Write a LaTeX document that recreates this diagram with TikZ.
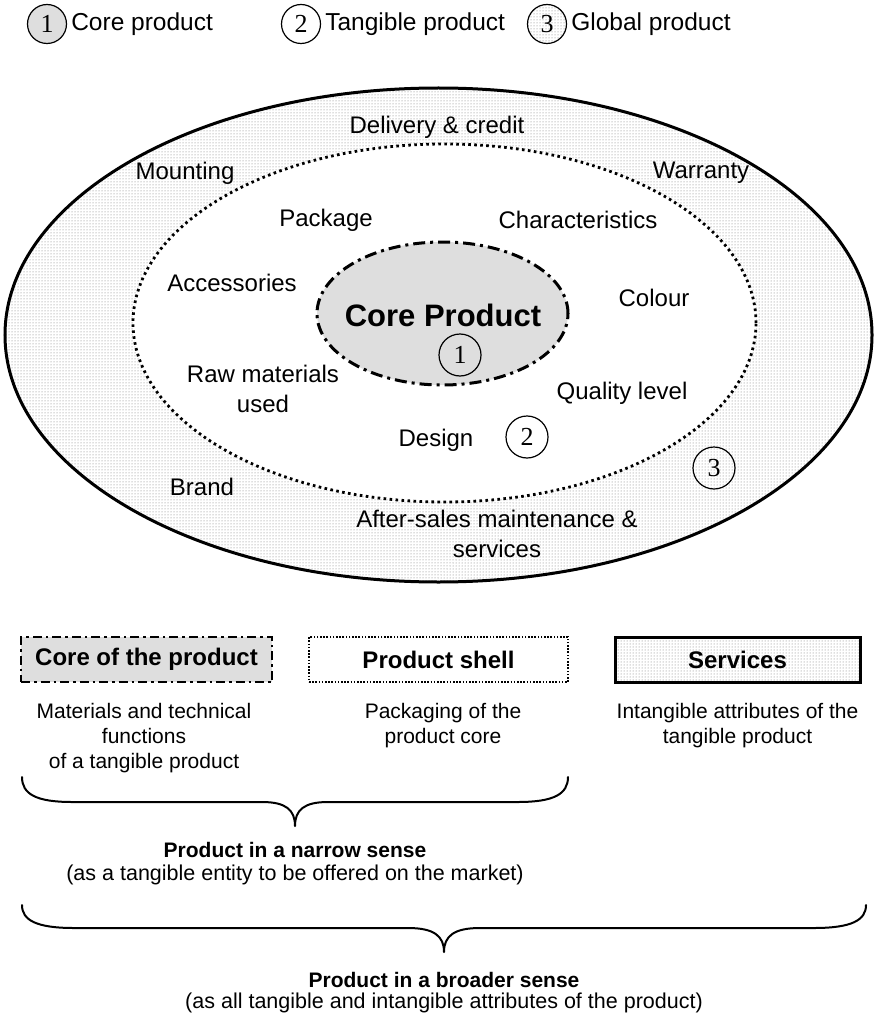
\documentclass[tikz,border=0pt]{standalone}
\usepackage{fontspec}
\setmainfont{Liberation Sans}
\newfontfamily\numfont{Liberation Serif}
\usetikzlibrary{patterns}
\definecolor{coregray}{gray}{0.87}
\begin{document}
\begin{tikzpicture}[x=1pt,y=-1pt,
  lbl/.style={font=\fontsize{24}{30}\selectfont, inner sep=0pt, align=center},
  legendlbl/.style={font=\fontsize{24.5}{30}\selectfont, inner sep=0pt, anchor=west},
  desc/.style={font=\fontsize{21}{25}\selectfont, inner sep=0pt, align=center},
  sense/.style={font=\bfseries\fontsize{21}{25}\selectfont, inner sep=0pt},
  senseexpl/.style={font=\fontsize{21.5}{25}\selectfont, inner sep=0pt},
  num/.style={circle, draw, line width=1.2pt, minimum size=42pt, inner sep=0pt,
    font=\numfont\fontsize{26}{26}\selectfont},
  legendnum/.style={num, minimum size=39pt},
  dotfill/.style={pattern=dots, pattern color=black!55},
  coreline/.style={line width=3pt, dash pattern=on 12pt off 5pt on 3pt off 5pt},
  shellline/.style={line width=2.8pt, dash pattern=on 2.6pt off 3.4pt},
  boxlabel/.style={font=\bfseries\fontsize{24}{24}\selectfont, minimum height=45pt, inner sep=0pt},
  corebox/.style={boxlabel, fill=coregray, draw, line width=2.5pt,
    dash pattern=on 9pt off 4pt on 2.5pt off 4pt},
  shellbox/.style={boxlabel, draw, line width=2pt, dash pattern=on 1.6pt off 1.6pt},
  servicebox/.style={boxlabel, draw, line width=3pt, dotfill},
  bracepath/.style={line width=2pt, line cap=round, line join=round}
]
\useasboundingbox (0,0) rectangle (874,1016);

% legend
\node[legendnum, fill=coregray] (leg1) at (47,24) {1};
\node[legendlbl] (leg1t) at ([xshift=4pt]leg1.east) {Core product};
\node[legendnum] (leg2) at (301,24) {2};
\node[legendlbl] (leg2t) at ([xshift=4pt]leg2.east) {Tangible product};
\node[legendnum, dotfill] (leg3) at (547,24) {3};
\node[legendlbl] (leg3t) at ([xshift=4pt]leg3.east) {Global product};

% global product ring
\draw[line width=3pt, dotfill] (438.5,335) ellipse [x radius=433.5pt, y radius=247pt];
% tangible product
\draw[shellline, fill=white] (444.5,323) ellipse [x radius=311.5pt, y radius=179pt];
% core product
\draw[coreline, fill=coregray] (442.5,313.5) ellipse [x radius=125.5pt, y radius=71.5pt];

% outer ring labels
\node[lbl] (delivery) at (437,127) {Delivery \& credit};
\node[lbl] (mounting) at (185,173) {Mounting};
\node[lbl] (warranty) at (701,173) {Warranty};
\node[lbl] (brand) at (202,487) {Brand};
\node[lbl] (aftersales) at (497,534) {After-sales maintenance \&\\services};
\node[num] (n3) at (714,468) {3};

% tangible product labels
\node[lbl] (package) at (326,220) {Package};
\node[lbl] (characteristics) at (578,220) {Characteristics};
\node[lbl] (accessories) at (232,283) {Accessories};
\node[lbl] (colour) at (654,298) {Colour};
\node[lbl] (rawmaterials) at (263,389) {Raw materials\\used};
\node[lbl] (quality) at (622,393) {Quality level};
\node[lbl] (design) at (436,440) {Design};
\node[num] (n2) at (527,437) {2};

% core product
\node[font=\bfseries\fontsize{31}{31}\selectfont, inner sep=0pt] (core) at (443,315) {Core Product};
\node[num] (n1) at (460,355) {1};

% component boxes
\node[corebox, minimum width=251pt] (coreofproduct) at (146.5,659.5) {Core of the product};
\node[shellbox, minimum width=259pt] (productshell) at (438.5,659.5) {Product shell};
\node[servicebox, minimum width=245pt] (services) at (737.5,659.5) {Services};

\node[desc] (coredesc) at (144,738) {Materials and technical\\functions\\of a tangible product};
\node[desc] (shelldesc) at (443,725.5) {Packaging of the\\product core};
\node[desc] (servicedesc) at (737.5,725.5) {Intangible attributes of the\\tangible product};

% narrow sense brace
\draw[bracepath] (22,777) .. controls (22,794) and (36,802) .. (72,802)
  -- (262,802) .. controls (286,802) and (295,810) .. (295,826)
  .. controls (295,810) and (304,802) .. (328,802)
  -- (518,802) .. controls (554,802) and (568,794) .. (568,777);
\node[sense] (narrow) at (295,850) {Product in a narrow sense};
\node[senseexpl] (narrowexpl) at (295,875) {(as a tangible entity to be offered on the market)};

% broader sense brace
\draw[bracepath] (22,905) .. controls (22,920) and (36,928) .. (74,928)
  -- (408,928) .. controls (434,928) and (444,936) .. (444,952)
  .. controls (444,936) and (454,928) .. (480,928)
  -- (814,928) .. controls (852,928) and (866,920) .. (866,905);
\node[sense] (broader) at (444,980) {Product in a broader sense};
\node[senseexpl] (broaderexpl) at (444,1003) {(as all tangible and intangible attributes of the product)};
\end{tikzpicture}
\end{document}
